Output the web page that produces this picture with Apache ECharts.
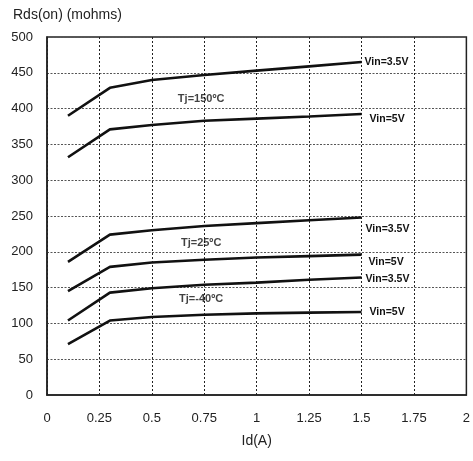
<!DOCTYPE html>
<html>
<head>
<meta charset="utf-8">
<script src="https://cdn.jsdelivr.net/npm/echarts@6/dist/echarts.min.js"></script>
<style>html,body{margin:0;padding:0;background:#fff}#c{width:473px;height:461px}</style>
</head>
<body>
<div id="c"></div>
<script>
var idA = [0.1, 0.3, 0.5, 0.75, 1.0, 1.25, 1.5];
var tj150_vin35 = [390, 429, 440, 447, 453, 459, 465];
var tj150_vin5  = [332, 371, 377, 383, 386, 389, 392.5];
var tj25_vin35  = [186, 224, 230, 236, 240, 244, 248];
var tj25_vin5   = [145, 179, 185, 189, 192, 194, 196];
var tjm40_vin35 = [104, 143, 149, 154, 157, 161, 164];
var tjm40_vin5  = [71, 104, 109, 112, 114, 115, 116];
var curveNames = ['Vin=3.5V', 'Vin=5V', 'Vin=3.5V', 'Vin=5V', 'Vin=3.5V', 'Vin=5V'];
var labelOffsets = [[0, 0], [5, 5], [1, 12], [4, 7], [1, 2], [5, 0]];
var tjTexts = ['Tj=150ºC', 'Tj=25ºC', 'Tj=-40ºC'];
var tjX = [0.735, 0.735, 0.735];
var tjY = [413, 212, 134];

var FONT = 'Liberation Sans, Arial, sans-serif';
var curves = [tj150_vin35, tj150_vin5, tj25_vin35, tj25_vin5, tjm40_vin35, tjm40_vin5];
var series = curves.map(function (vals, k) {
  return {
    type: 'line',
    data: vals.map(function (v, i) { return [idA[i], v]; }),
    symbol: 'none',
    lineStyle: { color: '#111', width: 2.6 },
    endLabel: {
      show: true,
      formatter: curveNames[k],
      color: '#111',
      fontSize: 10.5,
      fontWeight: 'bold',
      fontFamily: FONT,
      distance: 3,
      offset: labelOffsets[k]
    },
    silent: true,
    animation: false,
    z: 3
  };
});
series.push({
  type: 'scatter',
  data: tjTexts.map(function (t, i) { return { value: [tjX[i], tjY[i]], name: t }; }),
  symbolSize: 0,
  label: {
    show: true,
    position: 'inside',
    formatter: function (p) { return p.name; },
    color: '#111',
    fontSize: 11,
    fontWeight: 'bold',
    fontFamily: FONT
  },
  silent: true,
  animation: false
});

var chart = echarts.init(document.getElementById('c'));
chart.setOption({
  animation: false,
  title: {
    text: 'Rds(on) (mohms)', left: 8, top: 3,
    textStyle: { fontSize: 14, fontWeight: 'normal', color: '#222', fontFamily: FONT }
  },
  grid: { left: 47, right: 5, top: 37, bottom: 66, show: true, borderColor: '#222', borderWidth: 1.5 },
  xAxis: {
    type: 'value', min: 0, max: 2, interval: 0.25,
    name: 'Id(A)', nameLocation: 'middle', nameGap: 39,
    nameTextStyle: { fontSize: 14, color: '#222', fontFamily: FONT },
    axisLine: { show: true, lineStyle: { color: '#222', width: 1.5 } },
    axisTick: { show: false },
    axisLabel: { fontSize: 13, color: '#222', margin: 17, fontFamily: FONT },
    splitLine: { show: true, lineStyle: { type: [2, 2], color: '#222', width: 1 } }
  },
  yAxis: {
    type: 'value', min: 0, max: 500, interval: 50,
    axisLine: { show: true, lineStyle: { color: '#222', width: 1.5 } },
    axisTick: { show: false },
    axisLabel: { fontSize: 13, color: '#222', margin: 14, fontFamily: FONT },
    splitLine: { show: true, lineStyle: { type: [2, 1.5], color: '#555', width: 1 } }
  },
  series: series
});
</script>
</body>
</html>
